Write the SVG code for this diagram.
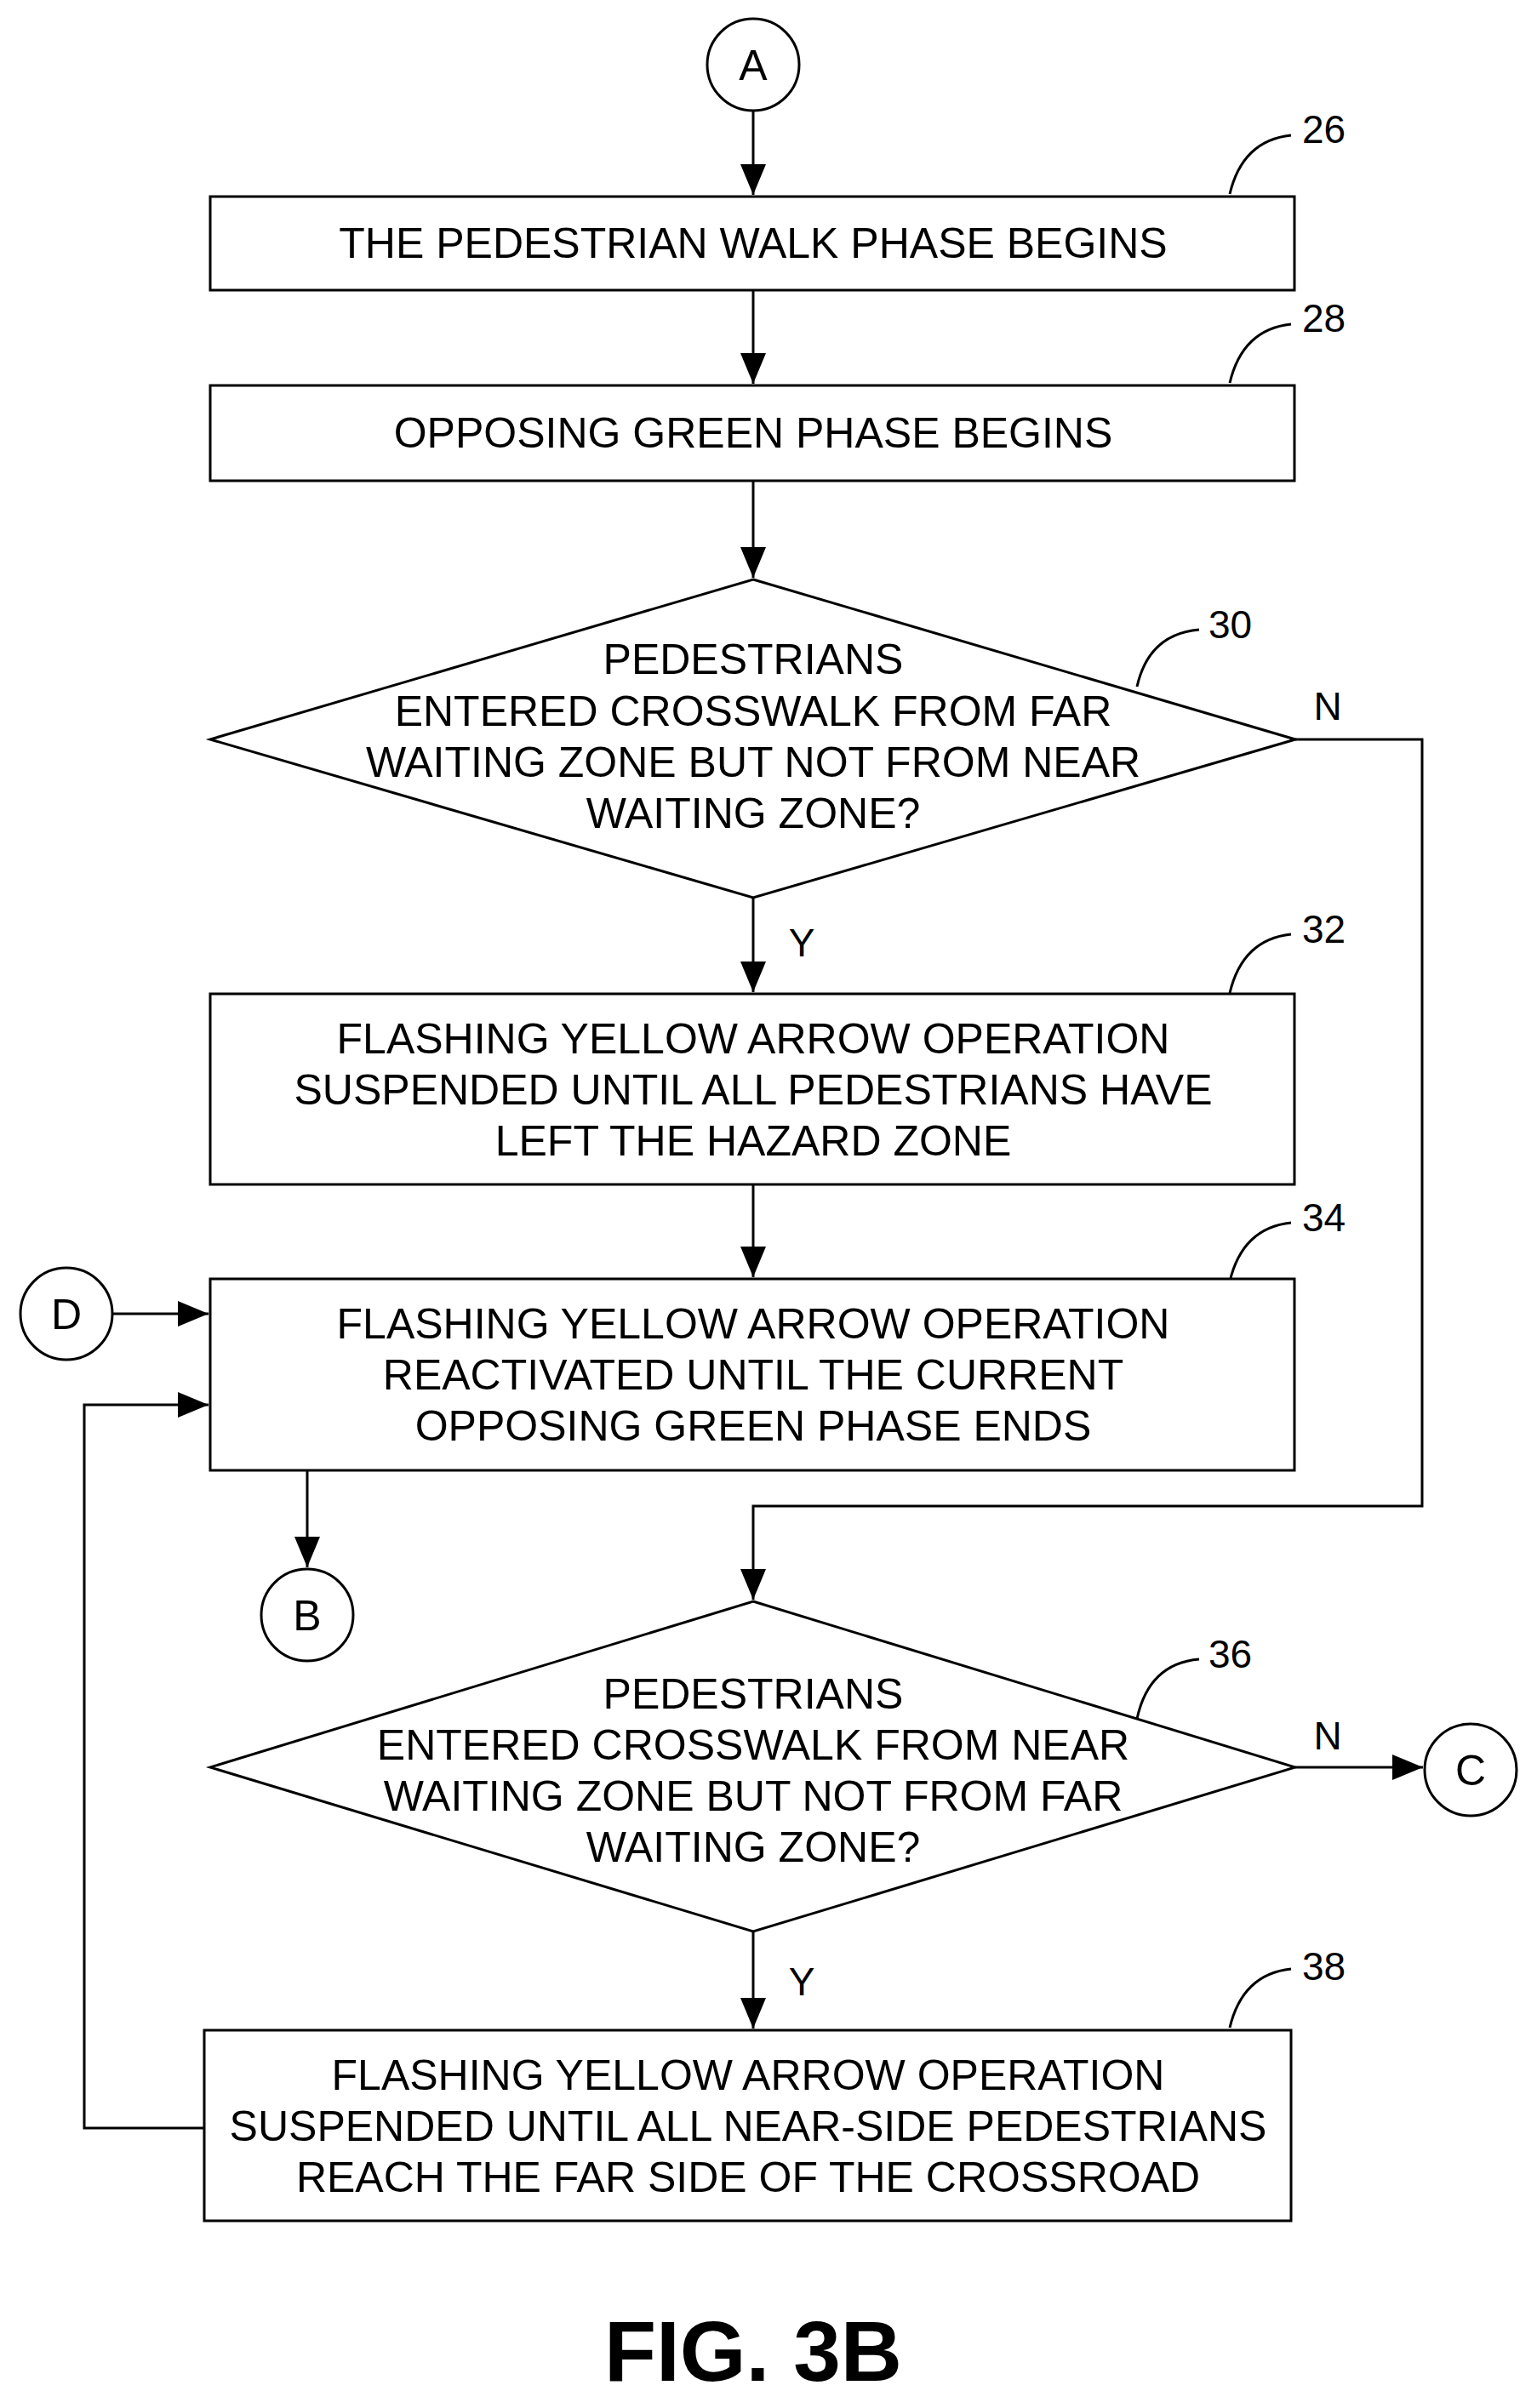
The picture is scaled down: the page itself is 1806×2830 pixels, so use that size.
<svg xmlns="http://www.w3.org/2000/svg" width="1806" height="2830" viewBox="0 0 1806 2830">
<style>
.s{fill:#fff;stroke:#000;stroke-width:3}
.l{fill:none;stroke:#000;stroke-width:3}
text{font-family:"Liberation Sans",Arial,sans-serif;font-size:50px;text-anchor:middle;fill:#000}
.r{text-anchor:start;font-size:46px}
</style>
<defs>
<marker id="b" viewBox="0 0 12 10" refX="12" refY="5" markerWidth="36" markerHeight="30" orient="auto" markerUnits="userSpaceOnUse"><path d="M0,0L12,5L0,10z"/></marker></defs>
<rect width="1806" height="2830" fill="#fff"/>
<g id="connectors">
<path class="l" d="M885,130V229" marker-end="url(#b)"/>
<path class="l" d="M885,341V451" marker-end="url(#b)"/>
<path class="l" d="M885,565V679" marker-end="url(#b)"/>
<path class="l" d="M885,1055V1166" marker-end="url(#b)"/>
<path class="l" d="M885,1392V1501" marker-end="url(#b)"/>
<path class="l" d="M1522,869H1671V1770H885V1880" marker-end="url(#b)"/>
<path class="l" d="M132,1544H245" marker-end="url(#b)"/>
<path class="l" d="M240,2501H99V1651H245" marker-end="url(#b)"/>
<path class="l" d="M361,1728V1842" marker-end="url(#b)"/>
<path class="l" d="M1522,2077H1672" marker-end="url(#b)"/>
<path class="l" d="M885,2270V2384" marker-end="url(#b)"/>
<path class="l" d="M1445,228Q1460,165 1517,159"/>
<path class="l" d="M1445,450Q1460,387 1517,381"/>
<path class="l" d="M1336,807Q1350,745 1409,740"/>
<path class="l" d="M1445,1167Q1460,1104 1517,1098"/>
<path class="l" d="M1445,1506Q1460,1443 1517,1437"/>
<path class="l" d="M1336,2020Q1350,1955 1409,1950"/>
<path class="l" d="M1445,2383Q1460,2320 1517,2314"/>
</g>
<g id="A"><circle class="s" cx="885" cy="76" r="54"/><text x="885" y="94">A</text></g>
<g id="n26"><rect class="s" x="247" y="231" width="1274" height="110"/><text x="885" y="303">THE PEDESTRIAN WALK PHASE BEGINS</text><text class="r" x="1530" y="168">26</text></g>
<g id="n28"><rect class="s" x="247" y="453" width="1274" height="112"/><text x="885" y="526">OPPOSING GREEN PHASE BEGINS</text><text class="r" x="1530" y="390">28</text></g>
<g id="n30"><path class="s" d="M885,681L1522,869L885,1055L247,869Z"/>
<text x="885" y="792">PEDESTRIANS</text><text x="885" y="853">ENTERED CROSSWALK FROM FAR</text><text x="885" y="913">WAITING ZONE BUT NOT FROM NEAR</text><text x="885" y="973">WAITING ZONE?</text>
<text class="r" x="1420" y="750">30</text><text x="1560" y="846" style="font-size:46px">N</text><text x="942" y="1124" style="font-size:46px">Y</text></g>
<g id="n32"><rect class="s" x="247" y="1168" width="1274" height="224"/><text x="885" y="1238">FLASHING YELLOW ARROW OPERATION</text><text x="885" y="1298">SUSPENDED UNTIL ALL PEDESTRIANS HAVE</text><text x="885" y="1358">LEFT THE HAZARD ZONE</text><text class="r" x="1530" y="1108">32</text></g>
<g id="n34"><rect class="s" x="247" y="1503" width="1274" height="225"/><text x="885" y="1573">FLASHING YELLOW ARROW OPERATION</text><text x="885" y="1633">REACTIVATED UNTIL THE CURRENT</text><text x="885" y="1693">OPPOSING GREEN PHASE ENDS</text><text class="r" x="1530" y="1447">34</text></g>
<g id="D"><circle class="s" cx="78" cy="1544" r="54"/><text x="78" y="1562">D</text></g>
<g id="B"><circle class="s" cx="361" cy="1898" r="54"/><text x="361" y="1916">B</text></g>
<g id="n36"><path class="s" d="M885,1882L1522,2077L885,2270L247,2077Z"/>
<text x="885" y="2008">PEDESTRIANS</text><text x="885" y="2068">ENTERED CROSSWALK FROM NEAR</text><text x="885" y="2128">WAITING ZONE BUT NOT FROM FAR</text><text x="885" y="2188">WAITING ZONE?</text>
<text class="r" x="1420" y="1960">36</text><text x="1560" y="2056" style="font-size:46px">N</text><text x="942" y="2345" style="font-size:46px">Y</text></g>
<g id="C"><circle class="s" cx="1728" cy="2080" r="54"/><text x="1728" y="2098">C</text></g>
<g id="n38"><rect class="s" x="240" y="2386" width="1277" height="224"/><text x="879" y="2456">FLASHING YELLOW ARROW OPERATION</text><text x="879" y="2516">SUSPENDED UNTIL ALL NEAR-SIDE PEDESTRIANS</text><text x="879" y="2576">REACH THE FAR SIDE OF THE CROSSROAD</text><text class="r" x="1530" y="2327">38</text></g>
<text x="885" y="2798" style="font-size:100px;font-weight:bold">FIG. 3B</text>
</svg>
